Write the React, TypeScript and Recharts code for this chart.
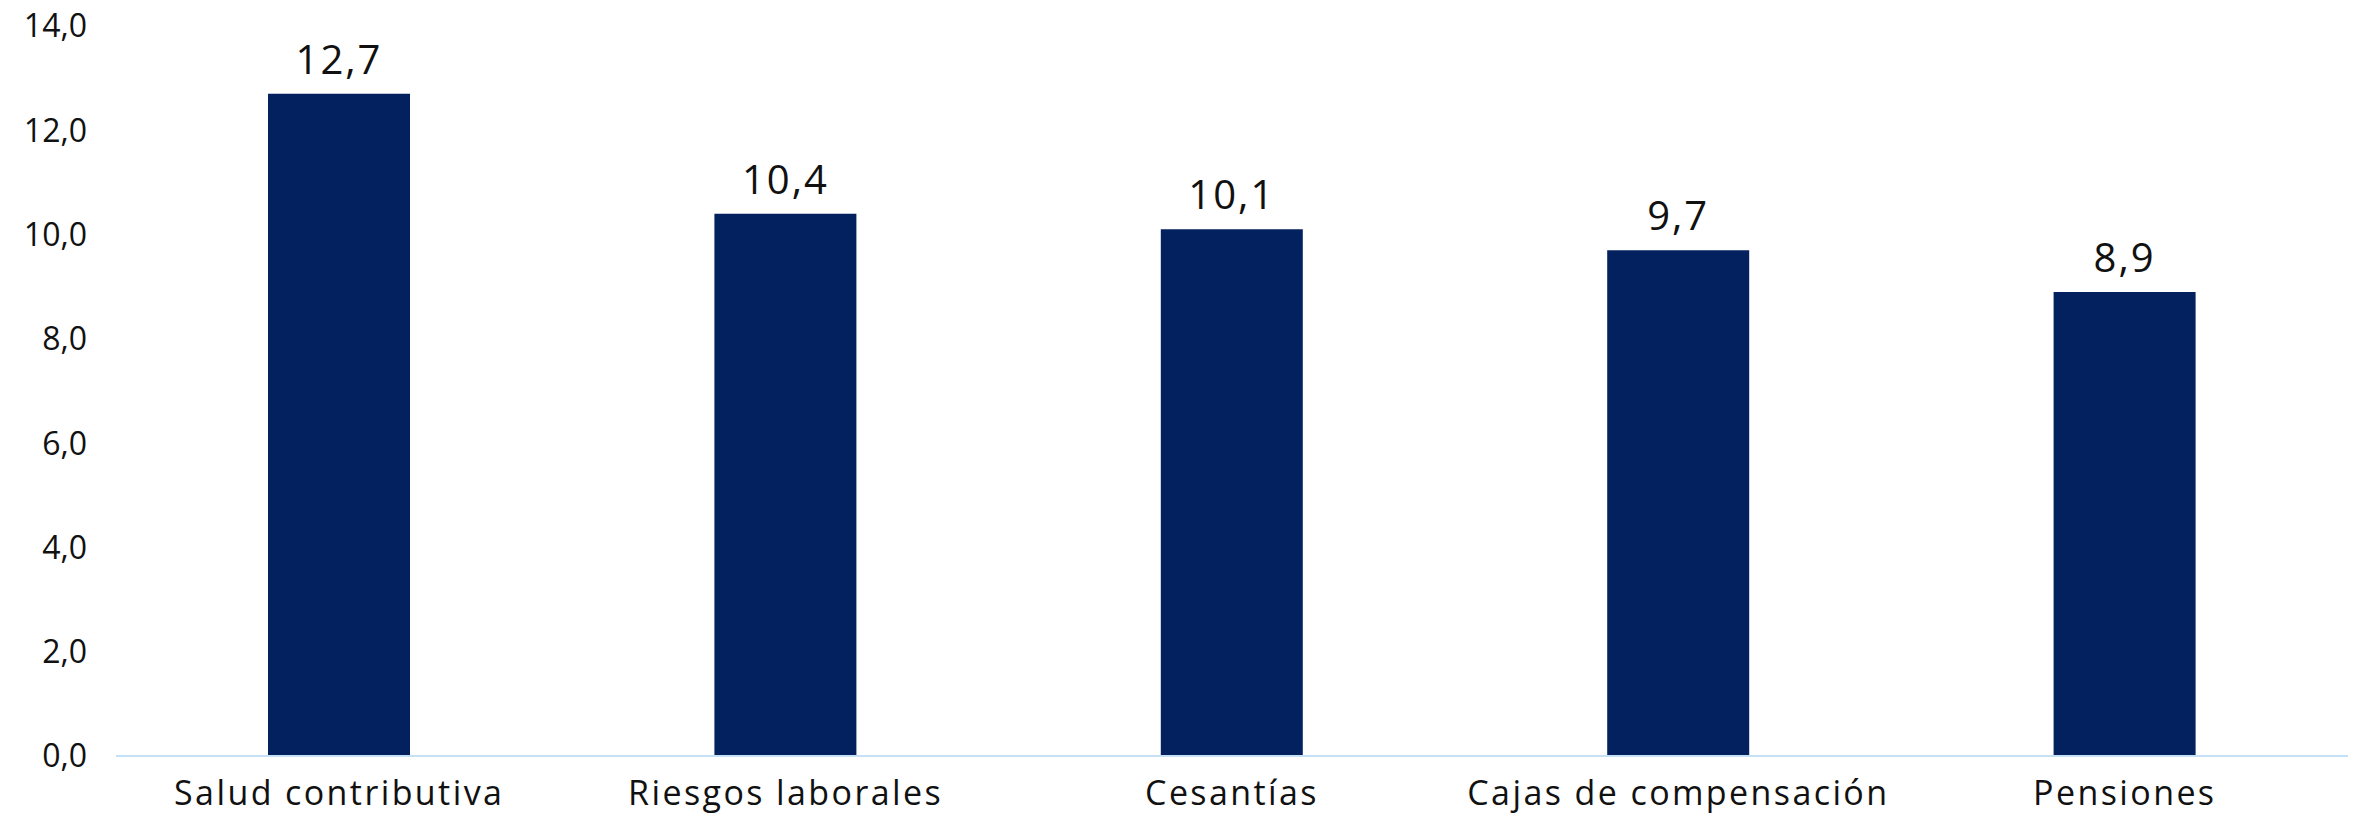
import { BarChart, Bar, XAxis, YAxis, LabelList } from 'recharts';

const categories = ['Salud contributiva', 'Riesgos laborales', 'Cesantías', 'Cajas de compensación', 'Pensiones'];
const values = [12.7, 10.4, 10.1, 9.7, 8.9];
const yTicks = [0, 2, 4, 6, 8, 10, 12, 14];

const data = categories.map((name, i) => ({ name, value: values[i] }));

const fmt = (v: number) => v.toFixed(1).replace('.', ',');

export default function App() {
  return (
    <div style={{ position: 'absolute', left: 0, top: 0, background: '#fff', fontFamily: '"Open Sans", sans-serif' }}>
      <BarChart width={2357} height={819} data={data} margin={{ top: 26, right: 9, bottom: 0, left: 0 }}>
        <XAxis
          dataKey="name"
          height={63}
          tickLine={false}
          tickSize={0}
          tickMargin={25}
          axisLine={{ stroke: '#c5e0f7', strokeWidth: 2 }}
          tick={{ fontSize: 34, fill: '#111', letterSpacing: 2.4 }}
          interval={0}
        />
        <YAxis
          width={116}
          domain={[0, 14]}
          ticks={yTicks}
          axisLine={false}
          tickLine={false}
          tickSize={0}
          tickMargin={29}
          tickFormatter={fmt}
          tick={{ fontSize: 32, fill: '#111' }}
        />
        <Bar dataKey="value" fill="#03215f" barSize={142} isAnimationActive={false}>
          <LabelList dataKey="value" position="top" offset={20} formatter={(v: number) => fmt(v)} style={{ fontSize: 40, fill: '#111', letterSpacing: 2 }} />
        </Bar>
      </BarChart>
    </div>
  );
}
